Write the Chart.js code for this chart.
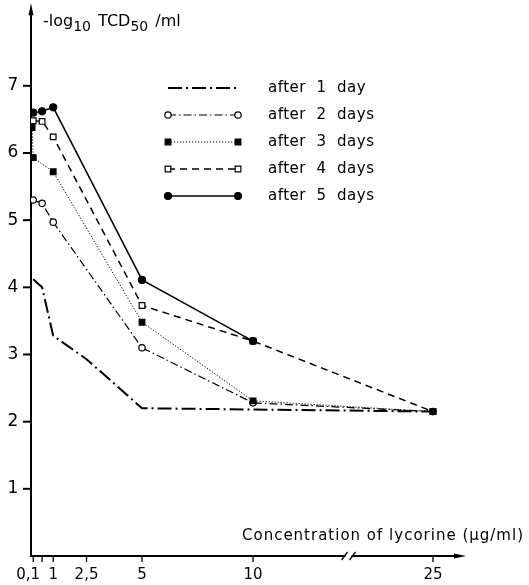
<!DOCTYPE html>
<html>
<head>
<meta charset="utf-8">
<script src="https://cdn.jsdelivr.net/npm/chart.js@4/dist/chart.umd.min.js"></script>
<style>
  html, body { margin: 0; padding: 0; background: #fff; }
  #wrap { width: 529px; height: 585px; position: relative; }
</style>
</head>
<body>
<div id="wrap"><canvas id="chart"></canvas></div>
<script>
// ===============================
// DATA
// ===============================

const seriesLabels = ["after  1  day", "after  2  days", "after  3  days", "after  4  days", "after  5  days"];

const day1Conc = [0.1, 0.5, 1, 2.5, 5, 25];
const day1Titre = [4.12, 4.0, 3.28, 2.93, 2.2, 2.15];

const day2Conc = [0.1, 0.5, 1, 5, 10, 25];
const day2Titre = [5.3, 5.25, 4.97, 3.1, 2.28, 2.15];

const day3Conc = [0.05, 0.1, 1, 5, 10, 25];
const day3Titre = [6.38, 5.93, 5.72, 3.48, 2.31, 2.15];

const day4Conc = [0.1, 0.5, 1, 5, 10, 25];
const day4Titre = [6.48, 6.47, 6.24, 3.73, 3.2, 2.15];

const day5Conc = [0.1, 0.5, 1, 5, 10];
const day5Titre = [6.6, 6.62, 6.68, 4.11, 3.2];

const xTicks = [0.1, 0.5, 1, 2.5, 5, 10, 25];
const xTickLabels = ["0,1", "", "1", "2,5", "5", "10", "25"];
const yTicks = [1, 2, 3, 4, 5, 6, 7];

// ===============================
// AXIS BREAK (linear up to 14, compressed after)
// ===============================

const breakAt = 14;
const afterBreak = 0.373;
function xPos(v) {
  return v <= breakAt ? v : breakAt + (v - breakAt) * afterBreak;
}

function points(xs, ys) {
  return xs.map((x, i) => ({ x: xPos(x), y: ys[i] }));
}

const FONT = '"DejaVu Sans", sans-serif';

// ===============================
// AXES + LEGEND PLUGIN
// ===============================

const axesPlugin = {
  id: "axes",
  beforeDatasetsDraw(chart) {
    const ctx = chart.ctx;
    const xs = chart.scales.x, ys = chart.scales.y;
    const x0 = xs.getPixelForValue(0);
    const y0 = ys.getPixelForValue(0);
    const yTop = chart.chartArea.top;
    const xEnd = chart.chartArea.right;
    const xBreak = xs.getPixelForValue(breakAt + 0.3);

    ctx.save();
    ctx.strokeStyle = "#000";
    ctx.fillStyle = "#000";
    ctx.lineWidth = 2;
    ctx.setLineDash([]);

    // y axis
    ctx.beginPath();
    ctx.moveTo(x0, y0 + 1);
    ctx.lineTo(x0, yTop + 6);
    ctx.stroke();
    ctx.beginPath();
    ctx.moveTo(x0, yTop - 2);
    ctx.lineTo(x0 - 2.5, yTop + 10);
    ctx.lineTo(x0 + 2.5, yTop + 10);
    ctx.closePath();
    ctx.fill();

    // x axis with break
    ctx.lineWidth = 1.8;
    ctx.beginPath();
    ctx.moveTo(x0 - 1, y0);
    ctx.lineTo(xBreak - 3, y0);
    ctx.moveTo(xBreak + 3, y0);
    ctx.lineTo(xEnd - 6, y0);
    ctx.stroke();
    ctx.beginPath();
    ctx.moveTo(xEnd + 2, y0);
    ctx.lineTo(xEnd - 10, y0 - 2.5);
    ctx.lineTo(xEnd - 10, y0 + 2.5);
    ctx.closePath();
    ctx.fill();
    ctx.lineWidth = 1.3;
    ctx.beginPath();
    ctx.moveTo(xBreak - 7, y0 + 4);
    ctx.lineTo(xBreak - 1, y0 - 4);
    ctx.moveTo(xBreak + 1, y0 + 4);
    ctx.lineTo(xBreak + 7, y0 - 4);
    ctx.stroke();

    // y ticks
    ctx.lineWidth = 2;
    ctx.font = "17px " + FONT;
    ctx.textAlign = "center";
    ctx.textBaseline = "middle";
    yTicks.forEach(t => {
      const py = ys.getPixelForValue(t);
      ctx.beginPath();
      ctx.moveTo(x0 - 8, py);
      ctx.lineTo(x0, py);
      ctx.stroke();
      ctx.fillText(String(t), x0 - 18, py);
    });

    // x ticks
    ctx.lineWidth = 1.3;
    ctx.font = "15px " + FONT;
    ctx.textBaseline = "alphabetic";
    xTicks.forEach((t, i) => {
      const px = xs.getPixelForValue(xPos(t));
      ctx.beginPath();
      ctx.moveTo(px, y0);
      ctx.lineTo(px, y0 + 6);
      ctx.stroke();
      if (xTickLabels[i]) {
        const lx = i === 0 ? px - 5 : px;
        ctx.fillText(xTickLabels[i], lx, y0 + 23);
      }
    });

    // x title
    ctx.textAlign = "right";
    ctx.font = "15px " + FONT;
    ctx.letterSpacing = "1px";
    ctx.fillText("Concentration of lycorine (\u00b5g/ml)", 524, y0 - 16);
    ctx.letterSpacing = "0px";

    // y title with subscripts
    ctx.textAlign = "left";
    let tx = x0 + 12;
    const ty = 26;
    const parts = [["-log", 16, 0], ["10", 14, 5], [" TCD", 16, 0], ["50", 14, 5], [" /ml", 16, 0]];
    parts.forEach(([s, size, dy]) => {
      ctx.font = size + "px " + FONT;
      ctx.fillText(s, tx, ty + dy);
      tx += ctx.measureText(s).width + (dy ? 2 : 0);
    });

    ctx.restore();
  },
  afterDraw(chart) {
    const ctx = chart.ctx;
    const lx1 = 168, lx2 = 238, textX = 268;
    const rowY = [88, 115, 142, 169, 196];
    ctx.save();
    chart.data.datasets.forEach((ds, i) => {
      const y = rowY[i];
      ctx.strokeStyle = "#000";
      ctx.lineWidth = ds.borderWidth;
      ctx.setLineDash(ds.borderDash || []);
      ctx.beginPath();
      ctx.moveTo(lx1, y);
      ctx.lineTo(lx2, y);
      ctx.stroke();
      ctx.setLineDash([]);
      if (ds.pointRadius > 0) {
        [lx1, lx2].forEach(px => {
          ctx.fillStyle = ds.pointBackgroundColor;
          ctx.lineWidth = 1.2;
          ctx.beginPath();
          if (ds.pointStyle === "rect") {
            const s = ds.pointRadius * 1.42;
            ctx.rect(px - s / 2, y - s / 2, s, s);
          } else {
            ctx.arc(px, y, ds.pointRadius, 0, Math.PI * 2);
          }
          ctx.fill();
          ctx.stroke();
        });
      }
      ctx.fillStyle = "#000";
      ctx.font = "15px " + FONT;
      ctx.letterSpacing = "0.5px";
      ctx.textAlign = "left";
      ctx.textBaseline = "middle";
      ctx.fillText(seriesLabels[i], textX, y);
    });
    ctx.restore();
  }
};

// ===============================
// CHART
// ===============================

function lineSet(label, data, dash, width, style, radius, fill, order) {
  return {
    label,
    data,
    order,
    borderColor: "#000",
    borderWidth: width,
    borderDash: dash,
    tension: 0,
    pointStyle: style,
    pointRadius: radius,
    pointBorderWidth: 1.2,
    pointBorderColor: "#000",
    pointBackgroundColor: fill,
    fill: false
  };
}

new Chart(document.getElementById("chart"), {
  type: "line",
  data: {
    datasets: [
      lineSet(seriesLabels[0], points(day1Conc, day1Titre), [14, 4, 2, 4], 2, "circle", 0, "#000", 5),
      lineSet(seriesLabels[1], points(day2Conc, day2Titre), [8, 3, 1.5, 3], 1.2, "circle", 3.2, "#fff", 4),
      lineSet(seriesLabels[2], points(day3Conc, day3Titre), [1.2, 1.8], 1, "rect", 4, "#000", 2),
      lineSet(seriesLabels[3], points(day4Conc, day4Titre), [7, 5], 1.5, "rect", 4, "#fff", 3),
      lineSet(seriesLabels[4], points(day5Conc, day5Titre), [], 1.5, "circle", 3.5, "#000", 1)
    ]
  },
  options: {
    responsive: true,
    maintainAspectRatio: false,
    animation: false,
    layout: { padding: { left: 31, right: 65, top: 5, bottom: 29 } },
    plugins: { legend: { display: false }, tooltip: { enabled: false } },
    scales: {
      x: { type: "linear", min: 0, max: 19.5, display: false },
      y: { type: "linear", min: 0, max: 8.2, display: false }
    }
  },
  plugins: [axesPlugin]
});
</script>
</body>
</html>
